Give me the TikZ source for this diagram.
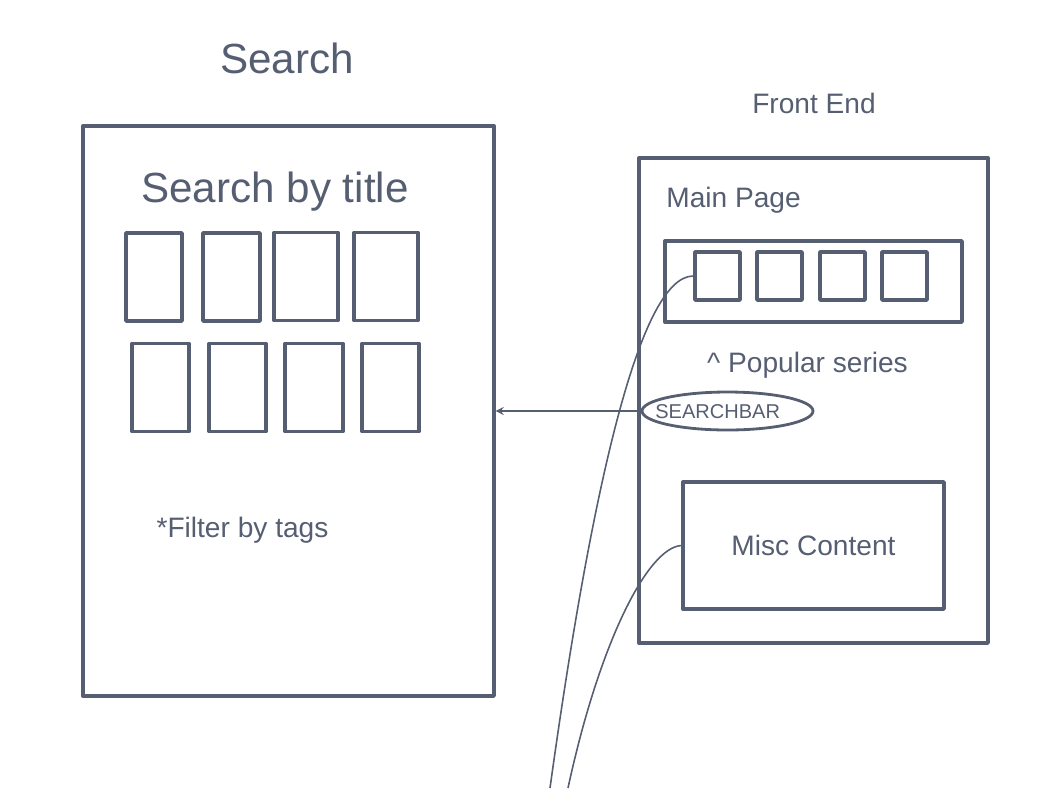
\documentclass[tikz,border=0pt]{standalone}
\usepackage{fontspec}
\setmainfont{Liberation Sans}
\usetikzlibrary{shapes.geometric}
\definecolor{tinta}{RGB}{86,94,114}
\tikzset{
    marco/.style={draw=tinta, line width=2pt, line join=round, inner sep=0pt, text=tinta},
    tarjeta/.style={draw=tinta, line width=2pt, line join=round, inner sep=0pt},
    barra/.style={draw=tinta, ellipse, line width=1.6pt, inner sep=0pt,
        minimum width=3.42cm, minimum height=0.76cm},
    hilo/.style={draw=tinta, line width=0.9pt},
    grande/.style={text=tinta, inner sep=0pt, font=\fontsize{24}{28}\selectfont},
    mediano/.style={text=tinta, inner sep=0pt, font=\fontsize{16}{19}\selectfont},
    chico/.style={text=tinta, inner sep=0pt, font=\fontsize{11.4}{13}\selectfont}
}
\begin{document}
\begin{tikzpicture}[x=0.02cm, y=-0.02cm, >=stealth]
            \useasboundingbox (0,0) rectangle (1040,788);

            % Pantalla de busqueda
            \node[grande] (tituloBusq) at (287,58) {Search};
            \node[marco, minimum width=8.22cm, minimum height=11.4cm] (busqueda) at (288.5,411) {};
            \node[grande, anchor=base] (porTitulo) at (275,202) {Search by title};

            % Resultados (dos filas de tarjetas)
            \foreach \cx/\cy/\w [count=\i] in {154/277/56, 231.5/277/57, 306/276.5/64, 386/276.5/64,
                                              160.5/387.5/57, 237.5/387.5/57, 314/387.5/58, 390.5/387.5/57} {
                \node[tarjeta, minimum width=\w*0.02cm, minimum height=1.76cm] (c\i) at (\cx,\cy) {};
            }
            \node[mediano, anchor=base] (filtro) at (242.5,537) {*Filter by tags};

            % Front end: pagina principal
            \node[mediano, anchor=base] (tituloFE) at (814,113) {Front End};
            \node[marco, minimum width=6.98cm, minimum height=9.7cm] (principal) at (813.5,400.5) {};
            \node[mediano, anchor=base west] (mainPage) at (666,207) {Main Page};
            \node[marco, minimum width=5.94cm, minimum height=1.62cm] (franja) at (813.5,281.5) {};
            \foreach \cx [count=\i] in {717.5,779.5,842.5,904.5} {
                \node[tarjeta, minimum width=0.9cm, minimum height=0.96cm] (p\i) at (\cx,276) {};
            }
            \node[mediano, anchor=base] (populares) at (807.5,372) {\textasciicircum{} Popular series};

            % Barra de busqueda
            \node[barra] (buscador) at (727.5,411) {};
            \node[chico, anchor=base west] (textoBarra) at (655,418) {SEARCHBAR};
            \node[marco, mediano, minimum width=5.22cm, minimum height=2.54cm] (misc) at (813.5,545.5) {Misc Content};

            % Conexiones
            \draw[->, draw=tinta, line width=1pt] (buscador.west) -- (busqueda.east);
            \coordinate (pie1) at (550,788);
            \coordinate (pie2) at (568,788);
            \draw[hilo] (p1.west) .. controls +(-55,0) and +(40,-288) .. (pie1);
            \draw[hilo] (misc.west) .. controls +(-33,2) and +(32,-148) .. (pie2);
        \end{tikzpicture}
\end{document}
